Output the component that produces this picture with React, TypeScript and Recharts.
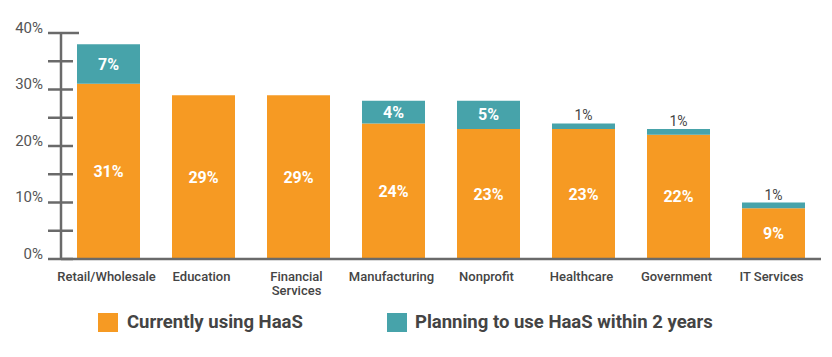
import React from "react";
import { BarChart, Bar, XAxis, YAxis, LabelList, Legend } from "recharts";

const categories = [
  "Retail/Wholesale",
  "Education",
  "Financial\nServices",
  "Manufacturing",
  "Nonprofit",
  "Healthcare",
  "Government",
  "IT Services",
];
const currentValues = [31, 29, 29, 24, 23, 23, 22, 9];
const planningValues = [7, 0, 0, 4, 5, 1, 1, 1];
const yTicks = [0, 5, 10, 15, 20, 25, 30, 35, 40];
const seriesNames = ["Currently using HaaS", "Planning to use HaaS within 2 years"];

const ORANGE = "#F69A23";
const TEAL = "#47A3AA";
const AXIS = "#6a6a6a";
const FONT = "Roboto, 'Noto Sans', sans-serif";

const data = categories.map((c, i) => ({
  name: c,
  current: currentValues[i],
  planning: planningValues[i],
}));

const YTick = (props: any) => {
  const { x, y, payload } = props;
  const v = payload.value;
  const major = v % 10 === 0;
  const x1 = x - 13;
  const x2 = v === 40 ? x + 18 : x + 12;
  return (
    <g>
      <line x1={x1} x2={x2} y1={y} y2={y} stroke={AXIS} strokeWidth={2.5} />
      {major && (
        <text
          x={x - 18}
          y={y - 4}
          textAnchor="end"
          dominantBaseline="middle"
          fontSize={15}
          fontFamily={FONT}
          fill="#555"
        >
          {v}%
        </text>
      )}
    </g>
  );
};

const XTick = (props: any) => {
  const { x, y, payload } = props;
  const lines = String(payload.value).split("\n");
  return (
    <text
      x={x - 2}
      y={y + 10}
      textAnchor="middle"
      fontSize={13}
      fontWeight={500}
      fontFamily={FONT}
      fill="#444"
    >
      {lines.map((l, i) => (
        <tspan key={i} x={x - 2} dy={i === 0 ? 4 : 14}>
          {l}
        </tspan>
      ))}
    </text>
  );
};

const PlanLabel = (props: any) => {
  const { x, y, width, height, value } = props;
  if (!value) return null;
  const cx = x + width / 2;
  if (value >= 3) {
    return (
      <text
        x={cx}
        y={y + height / 2}
        textAnchor="middle"
        dominantBaseline="central"
        fill="#fff"
        fontSize={16}
        fontWeight={700}
        fontFamily={FONT}
      >
        {value}%
      </text>
    );
  }
  return (
    <text
      x={cx}
      y={y - 8}
      textAnchor="middle"
      dominantBaseline="central"
      fill="#444"
      fontSize={14}
      fontFamily={FONT}
    >
      {value}%
    </text>
  );
};

const CurLabel = (props: any) => {
  const { x, y, width, height, value } = props;
  return (
    <text
      x={x + width / 2}
      y={y + height / 2}
      textAnchor="middle"
      dominantBaseline="central"
      fill="#fff"
      fontSize={16}
      fontWeight={700}
      fontFamily={FONT}
    >
      {value}%
    </text>
  );
};

const legendText: React.CSSProperties = {
  position: "absolute",
  top: 12,
  fontSize: 18.5,
  fontWeight: 700,
  color: "#444",
  lineHeight: "22px",
  whiteSpace: "nowrap",
};

const LegendContent = () => (
  <div style={{ position: "relative", height: 44, width: 816, fontFamily: FONT }}>
    <div style={{ position: "absolute", left: 90, top: 14, width: 20, height: 19, background: ORANGE }} />
    <div style={{ ...legendText, left: 119 }}>{seriesNames[0]}</div>
    <div style={{ position: "absolute", left: 379, top: 14, width: 20, height: 19, background: TEAL }} />
    <div style={{ ...legendText, left: 407 }}>{seriesNames[1]}</div>
  </div>
);

export default function App() {
  return (
    <BarChart
      width={816}
      height={340}
      data={data}
      margin={{ top: 25, right: 3, bottom: 5, left: 0 }}
    >
      <XAxis
        dataKey="name"
        height={40}
        interval={0}
        axisLine={{ stroke: AXIS, strokeWidth: 2.5 }}
        tickLine={false}
        tick={<XTick />}
      />
      <YAxis
        width={53}
        domain={[0, 40]}
        ticks={yTicks}
        interval={0}
        tickLine={false}
        tickSize={0}
        tickMargin={0}
        axisLine={{ stroke: AXIS, strokeWidth: 2.5 }}
        tick={<YTick />}
      />
      <Legend
        verticalAlign="bottom"
        content={<LegendContent />}
        wrapperStyle={{ left: 0, width: 816 }}
      />
      <Bar dataKey="current" stackId="a" fill={ORANGE} barSize={63} isAnimationActive={false} name={seriesNames[0]}>
        <LabelList dataKey="current" content={<CurLabel />} />
      </Bar>
      <Bar dataKey="planning" stackId="a" fill={TEAL} barSize={63} isAnimationActive={false} name={seriesNames[1]}>
        <LabelList dataKey="planning" content={<PlanLabel />} />
      </Bar>
    </BarChart>
  );
}
